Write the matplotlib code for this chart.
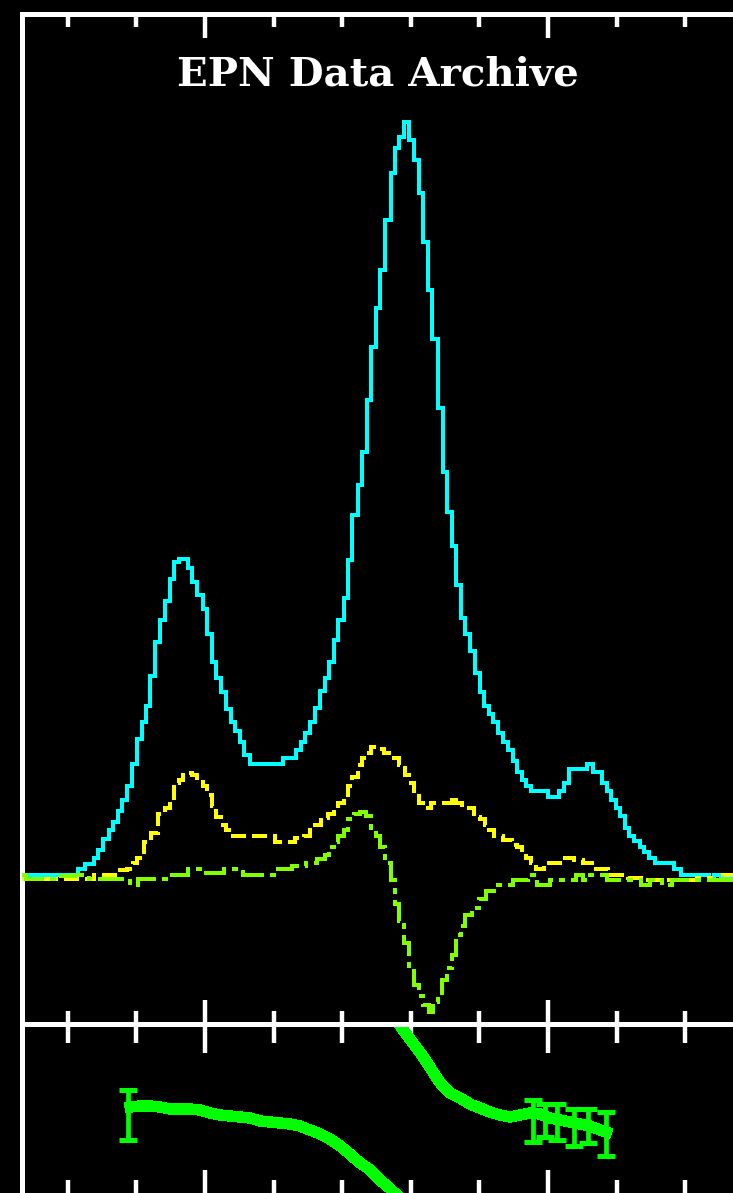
import matplotlib
matplotlib.use("Agg")
import matplotlib.pyplot as plt
from matplotlib.ticker import MultipleLocator

# --- data (x: channel units, y: counts / ratio) ---
cyan_x = [-26.7, -25.5, -22.9, -20.3, -19.0, -17.9, -17.2, -16.5, -15.9, -15.2, -14.4, -13.7,
          -13.1, -12.4, -11.7, -10.9, -10.3, -9.6, -8.9, -8.3, -7.6, -6.9, -6.3, -5.5, -4.8,
          -4.2, -3.5, -2.8, -2.2, -1.5, -0.7, 0.0, 0.6, 1.3, 2.0, 2.6, 3.4, 4.1, 4.7, 5.4, 6.1,
          6.9, 8.0, 9.5, 10.9, 11.7, 12.7, 13.7, 14.3, 15.0, 15.7, 16.3, 17.1, 17.8, 18.4, 19.1,
          19.8, 20.6, 21.1, 21.9, 22.6, 23.2, 23.9, 24.6, 25.2, 25.9, 26.7, 27.4, 28.0, 28.7,
          29.4, 30.0, 30.8, 31.5, 32.1, 32.8, 33.5, 34.3, 35.0, 35.7, 36.3, 36.9, 37.6, 38.3,
          38.9, 39.7, 40.4, 41.0, 41.7, 42.4, 43.1, 43.7, 44.5, 45.2, 45.9, 46.5, 47.2, 47.8,
          48.8, 49.7, 50.3, 51.2, 52.0, 52.6, 53.4, 54.4, 55.4, 56.1, 57.0, 57.6, 58.2, 58.9,
          59.5, 60.2, 60.9, 61.5, 62.2, 63.0, 63.7, 64.3, 65.2, 66.0, 67.1, 67.8, 68.8, 70.0,
          71.4, 72.9, 73.9, 74.6, 75.8, 78.7]
cyan_y = [0.2, 0.2, 0.2, 0.2, 0.2, 0.8, 1.3, 1.3, 1.9, 2.7, 3.8, 4.7,
          5.5, 6.6, 7.7, 9.1, 11.3, 13.8, 15.5, 17.1, 20.1, 23.5, 25.7, 27.6, 29.8,
          31.5, 31.8, 31.8, 30.9, 29.5, 28.2, 26.8, 24.3, 21.5, 19.9, 18.5, 16.8, 15.5, 14.6, 13.5, 12.2,
          11.3, 11.3, 11.3, 11.3, 11.9, 11.9, 12.7, 13.5, 14.4, 15.5, 16.9, 18.6, 19.9, 21.5, 23.7,
          25.7, 27.9, 31.7, 36.2, 39.2, 42.5, 47.7, 53.0, 56.9, 60.7, 65.7, 70.4, 72.9, 74.0,
          75.5, 73.7, 71.7, 68.4, 63.5, 58.7, 53.8, 46.9, 40.5, 36.5, 33.1, 29.2, 25.9, 24.3,
          22.6, 20.4, 18.5, 17.1, 16.3, 15.5, 14.4, 13.5, 12.7, 11.6, 10.5, 9.7, 9.1, 8.6,
          8.6, 8.6, 8.0, 8.0, 8.6, 9.4, 10.8, 10.8, 10.8, 11.3, 10.5, 10.5, 9.4, 8.6,
          7.7, 6.9, 6.1, 4.9, 4.1, 3.6, 3.0, 2.5, 1.9, 1.4, 1.4, 1.4, 0.8, 0.2,
          0.2, 0.2, -0.2, 0.2, 0.0, 0.0]

yellow_x = [-26.7, -23.3, -18.2, -14.1, -11.7, -10.9, -10.2, -9.6, -8.3, -7.4, -6.3, -5.4, -4.8,
            -4.2, -3.5, -2.8, -2.2, -1.5, -0.7, 0.0, 0.7, 1.3, 2.0, 2.6, 3.4, 4.8, 6.3, 8.0, 9.5,
            10.9, 12.4, 13.8, 15.0, 15.7, 16.3, 17.5, 18.4, 19.1, 19.8, 20.6, 21.1, 21.9, 22.6,
            23.2, 23.9, 24.6, 25.5, 26.7, 27.7, 28.9, 29.4, 30.0, 30.8, 31.5, 32.5, 33.5, 34.5,
            35.6, 36.3, 36.9, 37.9, 38.6, 39.7, 40.4, 41.1, 41.7, 42.7, 44.2, 45.2, 45.8, 46.5,
            47.2, 47.8, 48.8, 50.0, 51.0, 52.0, 53.1, 54.4, 55.8, 56.9, 58.3, 59.3, 60.5, 62.7,
            64.3, 67.1, 70.4, 72.9, 74.6, 75.4, 78.7]
yellow_y = [-0.2, -0.2, -0.2, 0.2, 0.7, 0.8, 1.4, 1.9, 3.5, 4.4, 6.3, 6.9, 7.7,
            9.4, 9.7, 10.2, 10.4, 10.2, 9.7, 9.1, 8.2, 7.1, 6.0, 5.2, 4.7, 4.1, 4.1, 4.1, 4.1,
            3.5, 3.5, 3.9, 4.1, 4.7, 5.2, 5.9, 6.3, 6.9, 7.4, 8.2, 9.1, 10.0, 11.2,
            11.9, 12.4, 13.0, 12.8, 12.4, 11.9, 11.2, 10.2, 9.4, 8.6, 7.4, 6.9, 7.4, 7.4,
            7.4, 8.0, 7.4, 6.9, 6.9, 6.0, 5.8, 5.2, 4.7, 4.1, 3.7, 3.2, 3.0, 2.5,
            1.9, 1.4, 0.8, 1.4, 1.4, 1.4, 1.9, 1.7, 1.4, 0.8, 0.8, 0.2, 0.2, -0.1,
            -0.3, -0.3, -0.3, -0.1, -0.3, 0.2, 0.0]

green_x = [-26.7, -25.4, -24.1, -21.9, -20.0, -17.8, -15.9, -13.7, -11.7, -10.3, -9.3, -7.6,
           -5.8, -3.8, -1.2, 1.5, 3.9, 7.3, 9.5, 11.7, 13.7, 15.7, 17.1, 17.8, 18.4, 19.1,
           19.8, 20.6, 21.1, 22.2, 22.9, 23.9, 24.6, 25.2, 25.9, 26.7, 27.4, 28.0, 28.7, 29.4,
           30.0, 30.8, 31.5, 32.1, 33.1, 33.5, 34.3, 34.8, 35.7, 36.3, 36.9, 37.6, 38.3, 39.4,
           40.4, 41.4, 43.0, 44.5, 45.2, 46.6, 47.5, 49.3, 51.3, 53.4, 54.7, 55.5, 56.3, 57.6,
           59.6, 61.7, 63.1, 64.1, 65.7, 67.5, 68.8, 70.7, 72.9, 78.7]
green_y = [0.2, -0.2, -0.2, -0.2, 0.1, 0.2, -0.2, -0.2, -0.2, -0.8, -0.2, -0.2,
           -0.2, 0.2, 0.8, 0.4, 0.8, 0.2, 0.2, 0.8, 1.1, 1.4, 1.8, 2.2, 3.0, 3.5,
           4.1, 4.7, 5.8, 6.3, 6.5, 6.1, 4.9, 4.1, 3.0, 1.4, -0.3, -2.7, -4.4, -6.6,
           -9.1, -10.8, -11.9, -12.8, -13.5, -12.5, -11.6, -10.3, -9.1, -7.8, -5.8, -4.9, -3.8, -3.1,
           -2.2, -1.4, -0.8, -0.8, -0.3, -0.3, 0.2, -0.8, -0.3, -0.3, 0.2, -0.3, 0.2, 0.2,
           -0.3, -0.3, -0.3, -0.8, -0.3, -0.8, -0.3, -0.3, -0.3, -0.3]

# lower panel
low1_x = [-10.9, -9.5, -8.0, -6.6, -5.1, -3.6, -2.2, -0.7, 0.7, 2.2, 3.6, 5.1, 6.6, 8.0,
          9.5, 10.9, 12.4, 13.8, 15.3, 16.8, 18.2, 19.7, 21.1, 22.6, 24.1, 25.5, 26.9, 28.1]
low1_y = [9.3, 9.4, 9.4, 9.3, 9.1, 9.1, 9.1, 9.0, 8.7, 8.5, 8.4, 8.3, 8.2, 7.9,
          7.8, 7.7, 7.6, 7.4, 7.0, 6.6, 6.1, 5.4, 4.6, 3.7, 3.0, 2.0, 1.2, 0.4]
low2_x = [28.1, 29.2, 30.2, 31.3, 32.5, 33.5, 34.5, 35.7, 37.2, 38.6, 40.1, 41.5, 43.0,
          44.5, 45.9, 47.4, 48.8, 50.3, 51.7, 53.2, 54.7, 56.1, 57.6, 58.5]
low2_y = [17.8, 16.7, 15.8, 14.8, 13.6, 12.5, 11.5, 10.7, 10.2, 9.6, 9.2, 8.8, 8.5,
          8.3, 8.5, 8.7, 8.6, 8.2, 8.0, 7.8, 7.6, 7.4, 7.0, 6.8]
err_x = [-11.2, 47.8, 49.6, 51.3, 53.8, 55.9, 58.5]
err_lo = [6.0, 5.8, 6.3, 6.0, 5.4, 5.7, 4.4]
err_hi = [11.0, 10.0, 9.6, 9.6, 9.1, 9.1, 8.8]

W, H = 733, 1193
fig = plt.figure(figsize=(W / 100, H / 100), dpi=100, facecolor='black')

ax = fig.add_axes([21.5 / W, (H - 1023.5) / H, (745 - 21.5) / W, 1010 / H])
ax2 = fig.add_axes([21.5 / W, (H - 1199) / H, (745 - 21.5) / W, 175.5 / H])

for a in (ax, ax2):
    a.set_facecolor('black')
    a.set_xlim(-26.75, 78.72)
    for s in a.spines.values():
        s.set_color('white')
        s.set_linewidth(3.6)
    a.xaxis.set_major_locator(MultipleLocator(50))
    a.xaxis.set_minor_locator(MultipleLocator(10))
    a.tick_params(which='both', direction='in', top=True, bottom=True, left=False, right=False,
                  labelbottom=False, labelleft=False, color='white', width=3.2)

ax.tick_params(which='major', length=17.6)
ax.tick_params(which='minor', length=9.5)
ax2.tick_params(which='major', length=21)
ax2.tick_params(which='minor', length=13.5)
ax.set_ylim(-14.65, 86.35)
ax2.set_ylim(0.1, 17.65)

# stepped lines give the blocky look of the original screen plot
ax.plot(cyan_x, cyan_y, color='#00ffff', lw=2.7, drawstyle='steps-mid',
        antialiased=False, zorder=2)
ax.plot(yellow_x, yellow_y, color='#ffff00', lw=3.0, dashes=(3.5, 1.6), drawstyle='steps-mid',
        antialiased=False, zorder=3)
ax.plot(green_x, green_y, color='#80ff00', lw=3.0, dashes=(6, 1.6, 1.3, 1.6), drawstyle='steps-mid',
        antialiased=False, zorder=4)

green = '#00ff00'
ax2.plot(low1_x, low1_y, color=green, lw=7.5, antialiased=False)
ax2.plot(low2_x, low2_y, color=green, lw=7.5, antialiased=False)
mid = [(lo + hi) / 2 for lo, hi in zip(err_lo, err_hi)]
half = [(hi - lo) / 2 for lo, hi in zip(err_lo, err_hi)]
ax2.errorbar(err_x, mid, yerr=half, fmt='none', ecolor=green, elinewidth=3.4,
             capsize=6.5, capthick=3.6)

fig.text(378 / W, 1 - 74 / H, 'EPN Data Archive', ha='center', va='center', color='white',
         fontsize=29, fontweight='bold', family='DejaVu Serif')

fig.savefig('out.png', dpi=100, facecolor='black')
